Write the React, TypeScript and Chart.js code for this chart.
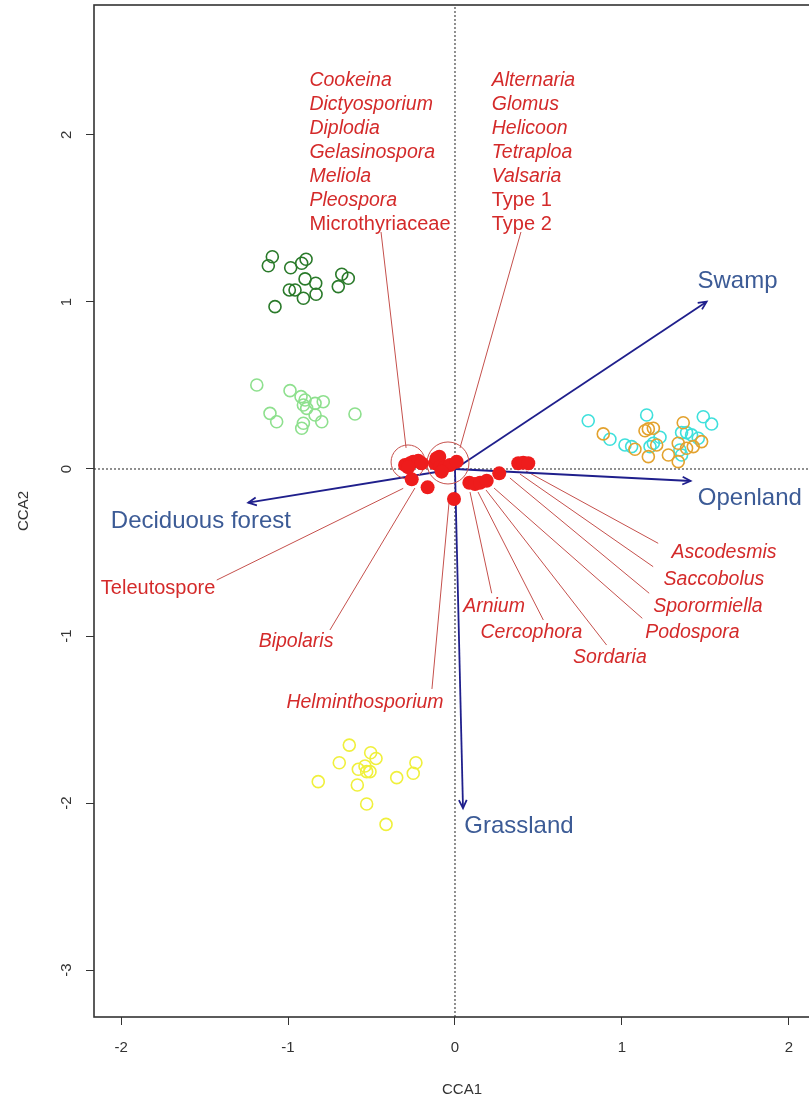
import React, { useEffect, useRef } from 'react';
import { Chart, registerables } from 'chart.js';

Chart.register(...registerables);

// ---------- axes ----------
const xTickValues = [-2, -1, 0, 1, 2];
const yTickValues = [-3, -2, -1, 0, 1, 2];
const X_MIN = -2.162;
const X_MAX = 2.246;
const Y_MIN = -3.281;
const Y_MAX = 2.778;

// ---------- sample scores (sites) ----------
const darkGreenSites: [number, number][] = [
  [-1.094, 1.271], [-1.118, 1.217], [-0.984, 1.205], [-0.918, 1.232], [-0.892, 1.256],
  [-0.898, 1.138], [-0.834, 1.112], [-0.992, 1.072], [-0.958, 1.072], [-0.908, 1.022],
  [-0.832, 1.046], [-0.678, 1.166], [-0.639, 1.142], [-0.699, 1.092], [-1.078, 0.972],
];
const lightGreenSites: [number, number][] = [
  [-1.187, 0.503], [-0.988, 0.469], [-0.922, 0.433], [-0.898, 0.413], [-0.908, 0.383],
  [-0.838, 0.393], [-0.789, 0.403], [-0.888, 0.363], [-0.838, 0.323], [-1.108, 0.333],
  [-1.068, 0.283], [-0.798, 0.283], [-0.908, 0.274], [-0.918, 0.244], [-0.599, 0.329],
];
const cyanSites: [number, number][] = [
  [0.798, 0.289], [0.928, 0.178], [1.018, 0.144], [1.058, 0.134], [1.148, 0.323],
  [1.168, 0.134], [1.228, 0.190], [1.188, 0.154], [1.357, 0.218], [1.387, 0.218],
  [1.417, 0.204], [1.457, 0.184], [1.487, 0.313], [1.537, 0.269], [1.347, 0.114],
  [1.357, 0.084],
];
const orangeSites: [number, number][] = [
  [0.888, 0.210], [1.078, 0.118], [1.138, 0.229], [1.158, 0.240], [1.188, 0.244],
  [1.208, 0.144], [1.158, 0.074], [1.278, 0.084], [1.367, 0.277], [1.337, 0.154],
  [1.387, 0.124], [1.427, 0.134], [1.477, 0.164], [1.337, 0.044],
];
const yellowSites: [number, number][] = [
  [-0.633, -1.653], [-0.505, -1.699], [-0.473, -1.733], [-0.693, -1.759], [-0.579, -1.798],
  [-0.539, -1.778], [-0.529, -1.812], [-0.509, -1.812], [-0.819, -1.872], [-0.585, -1.892],
  [-0.349, -1.848], [-0.250, -1.822], [-0.234, -1.759], [-0.529, -2.006], [-0.413, -2.128],
];

// ---------- species scores ----------
const speciesPoints: [number, number][] = [
  [-0.299, 0.024], [-0.269, 0.034], [-0.250, 0.044], [-0.220, 0.050], [-0.200, 0.034],
  [-0.280, 0.010], [-0.259, -0.062], [-0.164, -0.110],
  [-0.120, 0.034], [-0.094, 0.074], [-0.110, 0.064], [-0.090, 0.014], [-0.060, 0.014],
  [-0.030, 0.024], [0.010, 0.044], [-0.080, -0.016], [-0.006, -0.180],
  [0.086, -0.082], [0.120, -0.090], [0.150, -0.082], [0.190, -0.070], [0.265, -0.026],
  [0.379, 0.034], [0.409, 0.038], [0.439, 0.034],
];
// clusters of species highlighted with rings: centre and ring radius (in px)
const ringCentres: [number, number][] = [[-0.281, 0.042], [-0.042, 0.036]];
const ringRadii = [17, 21];

// ---------- environmental vectors ----------
const vectorNames = ['Swamp', 'Openland', 'Deciduous forest', 'Grassland'];
const vectorEnds: [number, number][] = [[1.507, 1.002], [1.411, -0.072], [-1.238, -0.202], [0.048, -2.030]];
const vectorLabelAt: [number, number][] = [[1.692, 1.126], [1.766, -0.174], [-1.522, -0.316], [0.383, -2.138]];

// ---------- species labels ----------
const leftColumnNames = ['Cookeina', 'Dictyosporium', 'Diplodia', 'Gelasinospora', 'Meliola', 'Pleospora', 'Microthyriaceae'];
const leftColumnItalic = [true, true, true, true, true, true, false];
const rightColumnNames = ['Alternaria', 'Glomus', 'Helicoon', 'Tetraploa', 'Valsaria', 'Type 1', 'Type 2'];
const rightColumnItalic = [true, true, true, true, true, false, false];
const columnTopY = 2.327;
const columnStep = 0.1435;
const leftColumnX = -0.872;
const rightColumnX = 0.220;

const singleNames = ['Teleutospore', 'Bipolaris', 'Helminthosporium', 'Arnium', 'Cercophora', 'Sordaria', 'Podospora', 'Sporormiella', 'Saccobolus', 'Ascodesmis'];
const singleItalic = [false, true, true, true, true, true, true, true, true, true];
const singleLabelAt: [number, number][] = [
  [-1.778, -0.713], [-0.952, -1.036], [-0.539, -1.401], [0.234, -0.826], [0.458, -0.982],
  [0.928, -1.132], [1.422, -0.982], [1.515, -0.826], [1.551, -0.665], [1.611, -0.503],
];

// leader lines: [labelEnd x, y, pointEnd x, y]
const leaderLines: [number, number, number, number][] = [
  [-0.443, 1.419, -0.293, 0.126],
  [0.395, 1.419, 0.030, 0.126],
  [-1.427, -0.665, -0.310, -0.116],
  [-0.749, -0.964, -0.240, -0.114],
  [-0.138, -1.317, -0.036, -0.204],
  [0.220, -0.744, 0.090, -0.138],
  [0.529, -0.904, 0.138, -0.138],
  [0.908, -1.054, 0.186, -0.126],
  [1.122, -0.894, 0.234, -0.114],
  [1.163, -0.744, 0.329, -0.054],
  [1.187, -0.585, 0.389, -0.030],
  [1.217, -0.445, 0.425, -0.012],
];

const RED = '#ee1c1c';
const LEADER = '#c5504c';
const ARROW = '#1f1f8c';
const VEC_TEXT = '#3c5b96';
const LABEL_RED = '#d42a2a';
const AXIS = '#333333';
const FONT = '"Liberation Sans", Arial, sans-serif';

const toXY = (arr: [number, number][]) => arr.map(([x, y]) => ({ x, y }));

export default function App() {
  const canvasRef = useRef<HTMLCanvasElement | null>(null);

  useEffect(() => {
    if (!canvasRef.current) return;

    const annotate = {
      id: 'annotate',
      afterDatasetsDraw(chart: any) {
        const { ctx } = chart;
        const xs = chart.scales.x;
        const ys = chart.scales.y;
        ctx.save();
        // arrow heads
        const x0 = xs.getPixelForValue(0);
        const y0 = ys.getPixelForValue(0);
        vectorEnds.forEach(([vx, vy]) => {
          const x1 = xs.getPixelForValue(vx);
          const y1 = ys.getPixelForValue(vy);
          const ang = Math.atan2(y1 - y0, x1 - x0);
          const L = 9;
          const a = Math.PI / 7;
          ctx.strokeStyle = ARROW;
          ctx.lineWidth = 1.8;
          ctx.beginPath();
          ctx.moveTo(x1 - L * Math.cos(ang - a), y1 - L * Math.sin(ang - a));
          ctx.lineTo(x1, y1);
          ctx.lineTo(x1 - L * Math.cos(ang + a), y1 - L * Math.sin(ang + a));
          ctx.stroke();
        });
        // vector labels
        ctx.fillStyle = VEC_TEXT;
        ctx.font = `24px ${FONT}`;
        ctx.textAlign = 'center';
        ctx.textBaseline = 'middle';
        vectorNames.forEach((n, i) => {
          ctx.fillText(n, xs.getPixelForValue(vectorLabelAt[i][0]), ys.getPixelForValue(vectorLabelAt[i][1]));
        });
        // species labels
        ctx.fillStyle = LABEL_RED;
        const setFont = (it: boolean) => {
          ctx.font = it ? `italic 19.5px ${FONT}` : `20px ${FONT}`;
        };
        ctx.textAlign = 'left';
        leftColumnNames.forEach((n, i) => {
          setFont(leftColumnItalic[i]);
          ctx.fillText(n, xs.getPixelForValue(leftColumnX), ys.getPixelForValue(columnTopY - i * columnStep));
        });
        rightColumnNames.forEach((n, i) => {
          setFont(rightColumnItalic[i]);
          ctx.fillText(n, xs.getPixelForValue(rightColumnX), ys.getPixelForValue(columnTopY - i * columnStep));
        });
        ctx.textAlign = 'center';
        singleNames.forEach((n, i) => {
          setFont(singleItalic[i]);
          ctx.fillText(n, xs.getPixelForValue(singleLabelAt[i][0]), ys.getPixelForValue(singleLabelAt[i][1]));
        });
        ctx.restore();
      },
      afterDraw(chart: any) {
        const { ctx, chartArea } = chart;
        const xs = chart.scales.x;
        const ys = chart.scales.y;
        ctx.save();
        ctx.strokeStyle = AXIS;
        ctx.lineWidth = 1.6;
        ctx.strokeRect(chartArea.left, chartArea.top, chartArea.right - chartArea.left, chartArea.bottom - chartArea.top);
        ctx.fillStyle = AXIS;
        ctx.font = `15px ${FONT}`;
        ctx.textAlign = 'center';
        ctx.textBaseline = 'middle';
        // x tick labels
        xTickValues.forEach((v) => {
          ctx.fillText(String(v), xs.getPixelForValue(v), chartArea.bottom + 31);
        });
        // rotated y tick labels
        yTickValues.forEach((v) => {
          const py = ys.getPixelForValue(v);
          ctx.save();
          ctx.translate(chartArea.left - 27, py);
          ctx.rotate(-Math.PI / 2);
          ctx.fillText(String(v), 0, 0);
          ctx.restore();
        });
        ctx.restore();
      },
    };

    const ring = (data: [number, number][], color: string, radius: number) => ({
      type: 'scatter' as const,
      data: toXY(data),
      pointRadius: radius,
      pointBorderWidth: 1.6,
      pointBackgroundColor: 'rgba(0,0,0,0)',
      pointBorderColor: color,
      showLine: false,
    });

    const datasets: any[] = [];
    datasets.push({
      type: 'scatter',
      data: toXY(speciesPoints),
      pointRadius: 7,
      pointBorderWidth: 0,
      pointBackgroundColor: RED,
      pointBorderColor: RED,
    });
    datasets.push({
      type: 'scatter',
      data: toXY(ringCentres),
      pointRadius: ringRadii,
      pointBorderWidth: 1,
      pointBackgroundColor: 'rgba(0,0,0,0)',
      pointBorderColor: LEADER,
    });
    vectorEnds.forEach(([vx, vy]) => {
      datasets.push({
        type: 'line',
        data: [{ x: 0, y: 0 }, { x: vx, y: vy }],
        borderColor: ARROW,
        borderWidth: 1.8,
        pointRadius: 0,
        fill: false,
      });
    });
    leaderLines.forEach(([ax, ay, bx, by]) => {
      datasets.push({
        type: 'line',
        data: [{ x: ax, y: ay }, { x: bx, y: by }],
        borderColor: LEADER,
        borderWidth: 1,
        pointRadius: 0,
        fill: false,
      });
    });
    datasets.push(ring(darkGreenSites, '#2a7a2a', 6));
    datasets.push(ring(lightGreenSites, '#8ee08e', 6));
    datasets.push(ring(orangeSites, '#e3a22e', 6));
    datasets.push(ring(cyanSites, '#3fe0dc', 6));
    datasets.push(ring(yellowSites, '#f0f03c', 6));
    // zero reference lines
    datasets.push({
      type: 'line',
      data: [{ x: X_MIN, y: 0 }, { x: X_MAX, y: 0 }],
      borderColor: '#222',
      borderWidth: 1,
      borderDash: [2, 2],
      pointRadius: 0,
    });
    datasets.push({
      type: 'line',
      data: [{ x: 0, y: Y_MIN }, { x: 0, y: Y_MAX }],
      borderColor: '#222',
      borderWidth: 1,
      borderDash: [2, 2],
      pointRadius: 0,
    });

    const chart = new Chart(canvasRef.current, {
      type: 'scatter',
      data: { datasets },
      plugins: [annotate],
      options: {
        responsive: false,
        animation: false,
        devicePixelRatio: 1,
        layout: { autoPadding: false, padding: { top: 5, right: 0, left: 0, bottom: 0 } },
        plugins: { legend: { display: false }, tooltip: { enabled: false } },
        elements: { line: { tension: 0 } },
        scales: {
          x: {
            type: 'linear',
            min: X_MIN,
            max: X_MAX,
            afterBuildTicks: (s: any) => {
              s.ticks = xTickValues.map((v) => ({ value: v }));
            },
            afterFit: (s: any) => {
              s.height = 84;
              s.paddingLeft = 0;
              s.paddingRight = 0;
            },
            grid: { drawOnChartArea: false, drawTicks: true, tickLength: 8, color: AXIS, lineWidth: 1 },
            border: { display: false },
            ticks: { display: false },
            title: {
              display: true,
              text: 'CCA1',
              color: AXIS,
              font: { family: FONT, size: 15 },
              padding: { top: 0, bottom: 2 },
            },
          },
          y: {
            type: 'linear',
            min: Y_MIN,
            max: Y_MAX,
            afterBuildTicks: (s: any) => {
              s.ticks = yTickValues.map((v) => ({ value: v }));
            },
            afterFit: (s: any) => {
              s.width = 94;
              s.paddingTop = 0;
              s.paddingBottom = 0;
            },
            grid: { drawOnChartArea: false, drawTicks: true, tickLength: 8, color: AXIS, lineWidth: 1 },
            border: { display: false },
            ticks: { display: false },
            title: {
              display: true,
              text: 'CCA2',
              color: AXIS,
              font: { family: FONT, size: 15 },
              padding: { top: 15, bottom: 0 },
            },
          },
        },
      },
    } as any);

    return () => chart.destroy();
  }, []);

  return (
    <div style={{ position: 'fixed', left: 0, top: 0, width: 830, height: 1101, background: '#fff' }}>
      <canvas ref={canvasRef} width={830} height={1101} style={{ display: 'block' }} />
    </div>
  );
}
